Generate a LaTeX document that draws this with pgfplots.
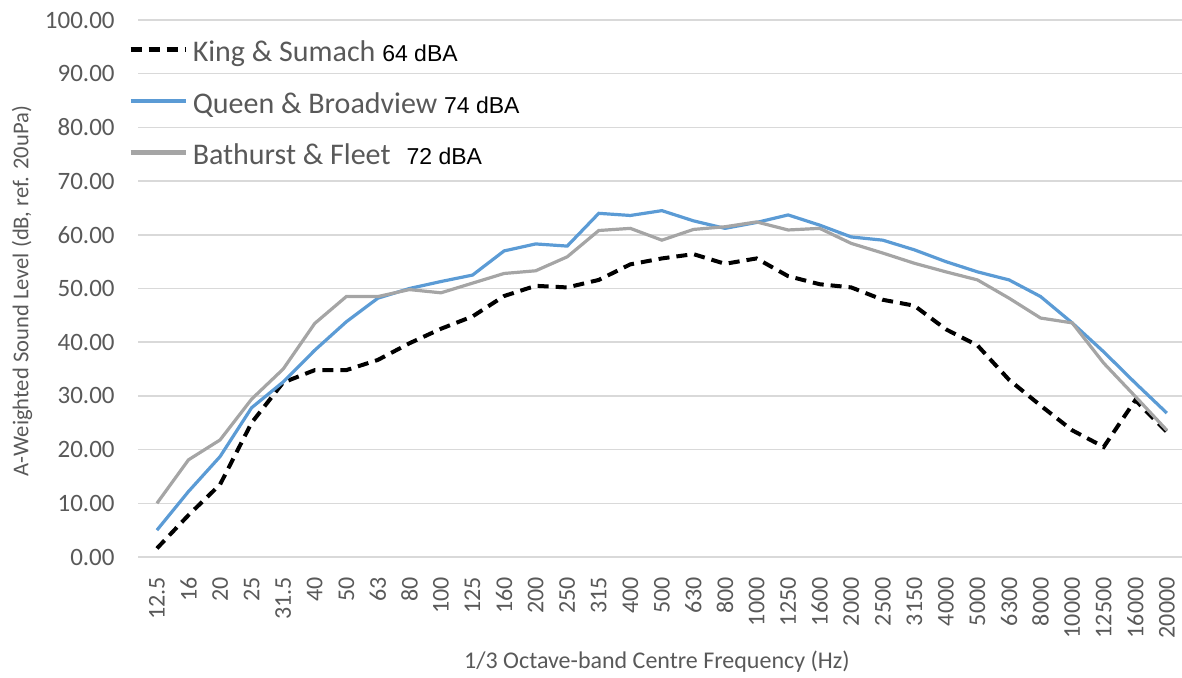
\documentclass[border=0pt]{standalone}
\usepackage{fontspec}
\setmainfont{Carlito}
\newfontfamily\arialfont{Liberation Sans}
\usepackage{pgfplots}
\pgfplotsset{compat=1.18}
\definecolor{txtgray}{HTML}{595959}
\definecolor{gridgray}{HTML}{D9D9D9}
\definecolor{qblue}{HTML}{5B9BD5}
\definecolor{bgray}{HTML}{A5A5A5}
\newcommand{\dba}[1]{{\arialfont\fontsize{11.5}{13}\selectfont\color{black}#1}}
\begin{document}
\begin{tikzpicture}
\begin{axis}[
  name=ax,
  scale only axis,
  width=522pt, height=268.5pt,
  xmin=-0.6, xmax=32.48,
  ymin=0, ymax=100,
  ytick={0,10,...,100},
  xtick={0,...,32},
  xticklabels={12.5,16,20,25,31.5,40,50,63,80,100,125,160,200,250,315,400,500,630,800,1000,1250,1600,2000,2500,3150,4000,5000,6300,8000,10000,12500,16000,20000},
  ymajorgrids,
  grid style={gridgray, line width=0.75pt},
  axis line style={draw=none},
  major tick length=0pt,
  yticklabel style={font=\fontsize{12.5}{14}\selectfont, text=txtgray, inner sep=0pt, anchor=east, xshift=-11.5pt,
    /pgf/number format/.cd, fixed, fixed zerofill, precision=2, assume math mode=true},
  xticklabel style={font=\fontsize{12}{14}\selectfont, text=txtgray, inner sep=0pt, yshift=-10pt, rotate=90, anchor=east},
  xlabel={1/3 Octave-band Centre Frequency (Hz)},
  ylabel={A-Weighted Sound Level (dB, ref. 20uPa)},
  xlabel style={font=\fontsize{12}{14}\selectfont, text=txtgray, at={(axis description cs:0.497,0)}, anchor=center, yshift=-52.5pt},
  ylabel style={font=\fontsize{11.3}{13}\selectfont, text=txtgray, at={(axis description cs:-0.111,0.495)}, anchor=center, rotate=0},
  legend style={draw=none, fill=none, at={(-0.0096,0.96)}, anchor=north west, inner sep=0pt,
    font=\fontsize{15}{18}\selectfont, text=txtgray, row sep=12.25pt, column sep=2.5pt,
    nodes={inner sep=0pt, text height=10pt, text depth=3.5pt}},
  legend cell align=left,
  legend image code/.code={\draw[#1, line width=2.2pt] (0pt,3pt) -- (27.5pt,3pt);},
]
\addplot[black, line width=2pt, dash pattern=on 5.5pt off 3.5pt] coordinates {
(0,1.6)(1,7.8)(2,13.5)(3,25)(4,32.5)(5,34.8)(6,34.8)(7,36.7)(8,39.8)(9,42.5)(10,44.8)
(11,48.6)(12,50.5)(13,50.2)(14,51.6)(15,54.5)(16,55.6)(17,56.4)(18,54.6)(19,55.6)(20,52.3)
(21,50.8)(22,50.2)(23,47.9)(24,46.8)(25,42.4)(26,39.4)(27,33)(28,28.2)(29,23.6)(30,20.5)
(31,29.2)(32,23.3)};
\addlegendentry{King \& Sumach \dba{64 dBA}}
\addplot[qblue, line width=1.6pt] coordinates {
(0,5)(1,12.2)(2,18.7)(3,27.8)(4,32.6)(5,38.5)(6,43.8)(7,48.2)(8,50)(9,51.3)(10,52.5)
(11,57)(12,58.3)(13,57.9)(14,64)(15,63.6)(16,64.5)(17,62.6)(18,61.2)(19,62.3)(20,63.7)
(21,61.8)(22,59.6)(23,59)(24,57.2)(25,55)(26,53.1)(27,51.6)(28,48.5)(29,43.6)(30,38.2)
(31,32.4)(32,26.8)};
\addlegendentry{Queen \& Broadview \dba{74 dBA}}
\addplot[bgray, line width=1.6pt] coordinates {
(0,10)(1,18.1)(2,21.8)(3,29.4)(4,35)(5,43.5)(6,48.5)(7,48.5)(8,49.8)(9,49.2)(10,51)
(11,52.8)(12,53.3)(13,55.9)(14,60.8)(15,61.2)(16,59)(17,61)(18,61.5)(19,62.4)(20,60.9)
(21,61.2)(22,58.4)(23,56.6)(24,54.7)(25,53.1)(26,51.6)(27,48.2)(28,44.5)(29,43.6)(30,36.1)
(31,29.9)(32,23.6)};
\addlegendentry{Bathurst \& Fleet\hspace{8pt}\dba{72 dBA}}
\end{axis}
\pgfresetboundingbox
\useasboundingbox ([shift={(-69pt,-60pt)}]ax.south west) rectangle ([shift={(0pt,10pt)}]ax.north east);
\end{tikzpicture}
\end{document}
